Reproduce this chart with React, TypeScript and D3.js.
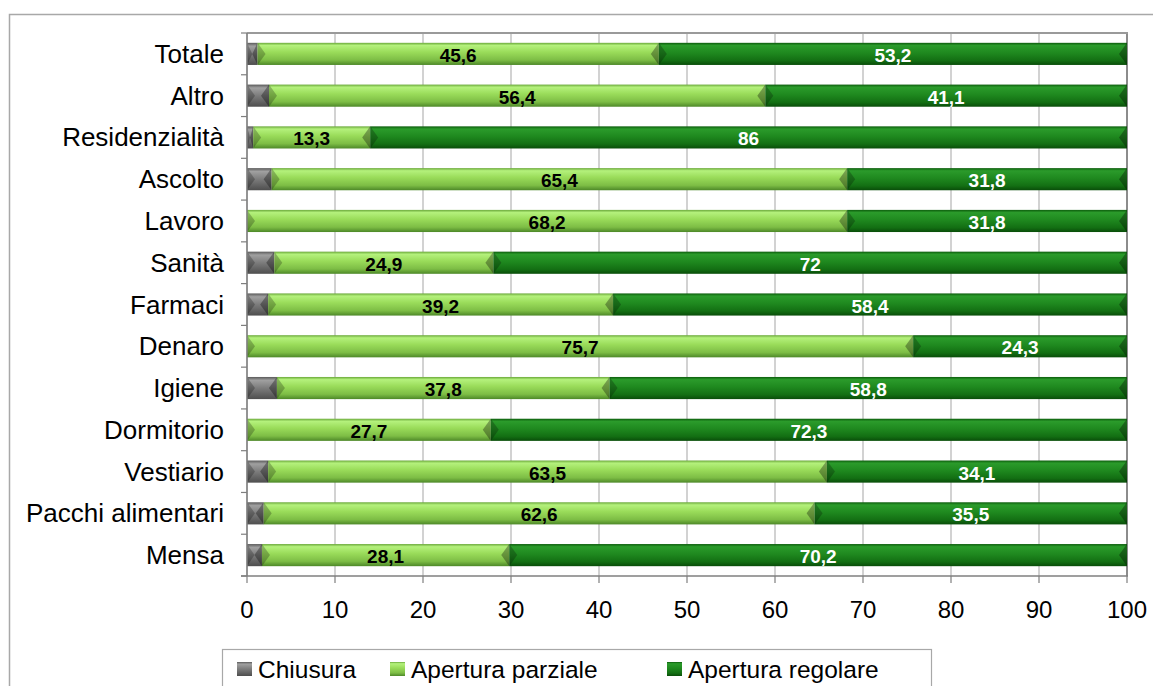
import React from "react";
import * as d3 from "d3";

const categories = [
  "Totale", "Altro", "Residenzialità", "Ascolto", "Lavoro", "Sanità", "Farmaci",
  "Denaro", "Igiene", "Dormitorio", "Vestiario", "Pacchi alimentari", "Mensa",
];
const chiusura = [1.2, 2.5, 0.7, 2.8, 0, 3.1, 2.4, 0, 3.4, 0, 2.4, 1.9, 1.7];
const aperturaParziale = [45.6, 56.4, 13.3, 65.4, 68.2, 24.9, 39.2, 75.7, 37.8, 27.7, 63.5, 62.6, 28.1];
const aperturaRegolare = [53.2, 41.1, 86, 31.8, 31.8, 72, 58.4, 24.3, 58.8, 72.3, 34.1, 35.5, 70.2];
const seriesNames = ["Chiusura", "Apertura parziale", "Apertura regolare"];
const xTicks = [0, 10, 20, 30, 40, 50, 60, 70, 80, 90, 100];

const FONT = "'Liberation Sans', Arial, sans-serif";

const seriesStyle = [
  { id: "gGray", stops: [["0", "#5a5a5a"], ["0.15", "#a0a0a0"], ["0.5", "#7c7c7c"], ["1", "#4e4e4e"]], label: "none" },
  { id: "gLight", stops: [["0", "#6aa83a"], ["0.12", "#b4f17c"], ["0.42", "#9adc5a"], ["0.78", "#7dbd45"], ["1", "#4d8828"]], label: "#000" },
  { id: "gDark", stops: [["0", "#0c5c0c"], ["0.12", "#2b9b2b"], ["0.45", "#1f891f"], ["0.8", "#136f13"], ["1", "#094d09"]], label: "#fff" },
];

export default function App() {
  const W = 1153, H = 686;
  const x = d3.scaleLinear().domain([0, 100]).range([247, 1127]);
  const y = d3.scaleBand<string>().domain(categories).range([33, 576]).paddingInner(0.47).paddingOuter(0.235);
  const rows = categories.map((c, i) => ({
    cat: c,
    Chiusura: chiusura[i],
    "Apertura parziale": aperturaParziale[i],
    "Apertura regolare": aperturaRegolare[i],
  }));
  const stack = d3.stack<any>().keys(seriesNames);
  const layers = stack(rows);
  const bw = y.bandwidth();
  const bev = 8;

  return (
    <svg width={W} height={H} style={{ display: "block", position: "absolute", left: 0, top: 0 }} fontFamily={FONT}>
      <defs>
        {seriesStyle.map((s) => (
          <linearGradient key={s.id} id={s.id} x1="0" y1="0" x2="0" y2="1">
            {s.stops.map(([o, c]) => (
              <stop key={o} offset={o} stopColor={c} />
            ))}
          </linearGradient>
        ))}
      </defs>
      <rect x={0} y={0} width={W} height={H} fill="#fff" />
      {/* outer chart border */}
      <rect x={9.5} y={14.5} width={W + 10} height={H} fill="none" stroke="#a8a8a8" strokeWidth={1.5} />

      {/* gridlines */}
      {xTicks.map((t) => (
        <line key={t} x1={x(t)} x2={x(t)} y1={33} y2={576} stroke={t === 100 ? "#8c8c8c" : "#b4b4b4"} strokeWidth={t === 100 ? 2 : 1.2} />
      ))}
      <line x1={247} x2={1128} y1={33} y2={33} stroke="#9a9a9a" strokeWidth={2} />

      {/* bars */}
      {layers.map((layer, si) => (
        <g key={si}>
          {layer.map((d, i) => {
            const x0 = x(d[0]);
            const x1 = x(d[1]);
            const w = x1 - x0;
            if (w <= 0.1) return null;
            const yy = y(categories[i]) as number;
            const b = Math.min(bev, w / 2);
            const mid = yy + bw / 2;
            return (
              <g key={i}>
                <rect x={x0} y={yy} width={w} height={bw} fill={`url(#${seriesStyle[si].id})`} />
                <polygon points={`${x0},${yy} ${x0 + b},${mid} ${x0},${yy + bw}`} fill="#000" opacity={0.24} />
                <polygon points={`${x1},${yy} ${x1 - b},${mid} ${x1},${yy + bw}`} fill="#000" opacity={0.32} />
              </g>
            );
          })}
        </g>
      ))}

      {/* data labels */}
      {layers.map((layer, si) =>
        seriesStyle[si].label === "none"
          ? null
          : layer.map((d, i) => {
              const v = d[1] - d[0];
              if (v <= 0) return null;
              const yy = (y(categories[i]) as number) + bw / 2;
              return (
                <text key={`${si}-${i}`} x={x((d[0] + d[1]) / 2)} y={yy + 8} textAnchor="middle" fontSize={19} fontWeight="bold" fill={seriesStyle[si].label}>
                  {String(Math.round(v * 10) / 10).replace(".", ",")}
                </text>
              );
            })
      )}

      {/* y axis */}
      <line x1={247} x2={247} y1={33} y2={576} stroke="#7f7f7f" strokeWidth={1.5} />
      {d3.range(categories.length + 1).map((k) => {
        const yy = 33 + k * y.step();
        return <line key={k} x1={241} x2={247} y1={yy} y2={yy} stroke="#7f7f7f" strokeWidth={1.2} />;
      })}
      {categories.map((c) => (
        <text key={c} x={224} y={(y(c) as number) + bw / 2 + 9} textAnchor="end" fontSize={26} fill="#000">
          {c}
        </text>
      ))}

      {/* x axis */}
      <line x1={241} x2={1128} y1={576} y2={576} stroke="#7f7f7f" strokeWidth={1.5} />
      {xTicks.map((t) => (
        <g key={t}>
          <line x1={x(t)} x2={x(t)} y1={576} y2={583} stroke="#7f7f7f" strokeWidth={1.2} />
          <text x={x(t)} y={618} textAnchor="middle" fontSize={24} fill="#000">
            {t}
          </text>
        </g>
      ))}

      {/* legend */}
      <rect x={222.5} y={649.5} width={709} height={60} fill="#fff" stroke="#a8a8a8" strokeWidth={1.2} />
      {seriesNames.map((n, i) => {
        const lx = [237, 390, 667][i];
        return (
          <g key={n}>
            <rect x={lx} y={662} width={15} height={14} fill={`url(#${seriesStyle[i].id})`} />
            <text x={lx + 21} y={678} fontSize={24.5} fill="#000">
              {n}
            </text>
          </g>
        );
      })}
    </svg>
  );
}
